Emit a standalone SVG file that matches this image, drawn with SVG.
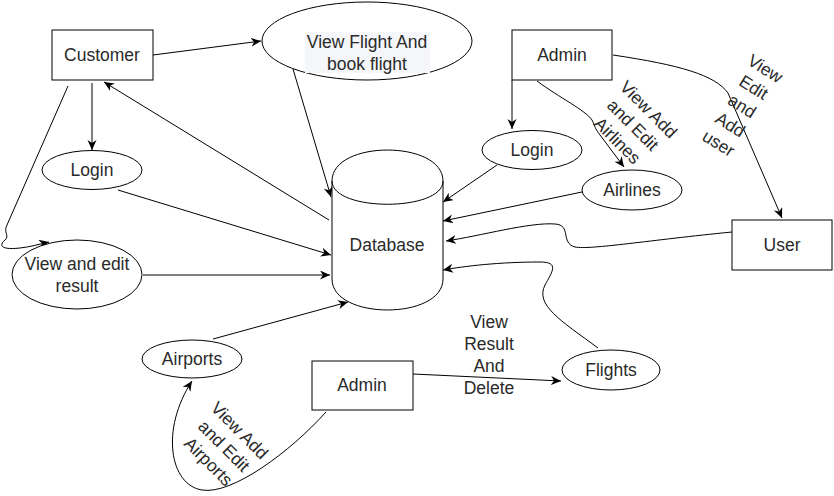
<svg xmlns="http://www.w3.org/2000/svg" width="834" height="496" viewBox="0 0 834 496">
<style>
.shape{fill:#fff;stroke:#000;stroke-width:1}
.t{font-family:"Liberation Sans",Arial,sans-serif;font-size:17.5px;fill:#2a2a2a;text-anchor:middle}
.c{fill:none;stroke:#000;stroke-width:1}
.a{marker-end:url(#arr)}
</style>
<defs>
<marker id="arr" markerUnits="userSpaceOnUse" markerWidth="12" markerHeight="10" refX="10" refY="4.5" orient="auto">
<path d="M0,0 L10,4.5 L0,9 L3,4.5 Z" fill="#000"/>
</marker>
</defs>
<rect width="834" height="496" fill="#fff"/>

<g id="connectors">
<path class="c a" d="M153,55 L261,41"/>
<path class="c a" d="M92,83 L92,150"/>
<path class="c a" d="M329,220 L104,82"/>
<path class="c a" d="M68,86 L7,225 C3,232 10,236 5,240 C-2,246 2,250 20,248 C30,247 40,244 49,242"/>
<path class="c a" d="M118,190 L331,255"/>
<path class="c a" d="M143,275 L330,275"/>
<path class="c a" d="M293,69 L331,197"/>
<path class="c a" d="M213,339 L348,302"/>
<path class="c a" d="M326,412 C290,452 232,495 202,490 C170,485 160,430 192,381"/>
<path class="c a" d="M413,374 L561,381"/>
<path class="c a" d="M598,348 C560,320 535,305 545,285 C552,272 560,262 540,262 C500,262 465,266 443,270"/>
<path class="c a" d="M512,80 L512,129"/>
<path class="c a" d="M497,165 L443,202"/>
<path class="c a" d="M582,192 L443,221"/>
<path class="c a" d="M732,232 C650,240 590,250 575,247 C560,243 572,225 555,224 C530,222 480,236 446,241"/>
<path class="c a" d="M537,81 C560,98 585,110 592,120 C596,128 594,127 600,135 L624,167"/>
<path class="c a" d="M613,55 C680,65 715,75 728,93 L782,218"/>
<text class="t" transform="translate(633,125) rotate(45)"><tspan x="0" y="-16">View Add</tspan><tspan x="0" y="6">and Edit</tspan><tspan x="0" y="28">Airlines</tspan></text>
<text class="t" transform="translate(742,106) rotate(32)"><tspan x="0" y="-38">View</tspan><tspan x="0" y="-16">Edit</tspan><tspan x="0" y="6">and</tspan><tspan x="0" y="28">Add</tspan><tspan x="0" y="50">user</tspan></text>
<text class="t" transform="translate(224,446) rotate(45)"><tspan x="0" y="-16">View Add</tspan><tspan x="0" y="6">and Edit</tspan><tspan x="0" y="28">Airports</tspan></text>
<text class="t"><tspan x="489" y="328">View</tspan><tspan x="489" y="350">Result</tspan><tspan x="489" y="372">And</tspan><tspan x="489" y="394">Delete</tspan></text>
</g>

<g id="customer">
<rect class="shape" x="52" y="30" width="101" height="50"/>
<text class="t" x="102" y="61">Customer</text>
</g>
<g id="view-flight">
<ellipse class="shape" cx="367" cy="41" rx="105" ry="39"/>
<rect x="305" y="32" width="125" height="41" fill="#f4f6f9"/>
<text class="t"><tspan x="367" y="48">View Flight And</tspan><tspan x="367" y="70">book flight</tspan></text>
</g>
<g id="login-customer">
<ellipse class="shape" cx="92" cy="170" rx="50" ry="19.5"/>
<text class="t" x="92" y="176">Login</text>
</g>
<g id="view-edit-result">
<ellipse class="shape" cx="77" cy="274.5" rx="65" ry="34.5"/>
<text class="t"><tspan x="77" y="270">View and edit</tspan><tspan x="77" y="292">result</tspan></text>
</g>
<g id="database">
<path class="shape" d="M332,181 C332,139.7 443,139.7 443,181 L443,279 C443,320.3 332,320.3 332,279 Z"/>
<path class="c" d="M332,181 C332,212 443,212 443,181"/>
<text class="t" x="387" y="251">Database</text>
</g>
<g id="airports">
<ellipse class="shape" cx="192" cy="359" rx="50" ry="19"/>
<text class="t" x="192" y="365">Airports</text>
</g>
<g id="admin-bottom">
<rect class="shape" x="312" y="361" width="101" height="49"/>
<text class="t" x="362" y="391">Admin</text>
</g>
<g id="flights">
<ellipse class="shape" cx="611" cy="370" rx="49" ry="20"/>
<text class="t" x="611" y="376">Flights</text>
</g>
<g id="admin-top">
<rect class="shape" x="512" y="30" width="100" height="50"/>
<text class="t" x="562" y="61">Admin</text>
</g>
<g id="login-admin">
<ellipse class="shape" cx="532" cy="150" rx="50" ry="19.5"/>
<text class="t" x="532" y="156">Login</text>
</g>
<g id="airlines">
<ellipse class="shape" cx="632" cy="190" rx="50" ry="20"/>
<text class="t" x="632" y="196">Airlines</text>
</g>
<g id="user">
<rect class="shape" x="732" y="220" width="100" height="50"/>
<text class="t" x="782" y="251">User</text>
</g>
</svg>
